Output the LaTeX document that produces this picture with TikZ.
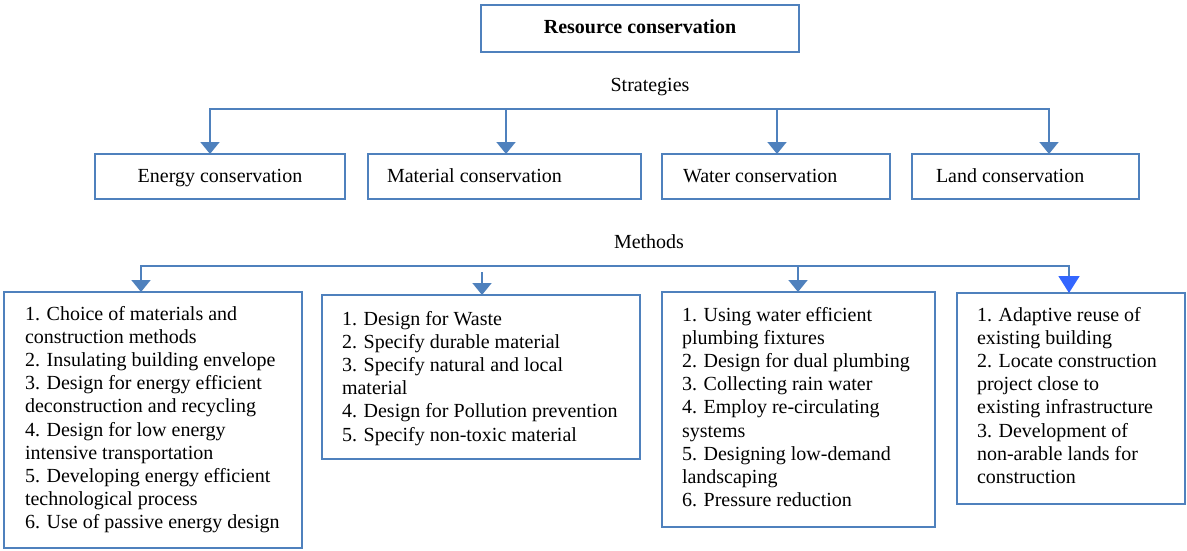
\documentclass[tikz,border=0pt]{standalone}
\usepackage{fontspec}
\setmainfont{Liberation Serif}
\usetikzlibrary{arrows.meta}
\definecolor{frame}{RGB}{79,129,189}
\definecolor{tipblue}{RGB}{51,102,255}
\begin{document}
\begin{tikzpicture}[x=1pt,y=-1pt,
  every node/.style={font=\fontsize{20}{23.2}\selectfont, inner sep=0pt, outer sep=0pt},
  box/.style={draw=frame, line width=2pt, anchor=north west},
  link/.style={draw=frame, line width=1.8pt, line join=miter},
  headtip/.tip={Triangle[width=19pt,length=12pt,color=frame]},
  bigtip/.tip={Triangle[width=21pt,length=17pt,color=tipblue]},
  label/.style={anchor=base},
  listtext/.style={anchor=north west, align=left}]

\useasboundingbox (0,0) rectangle (1187,550);

% top box
\node[box, minimum width=318pt, minimum height=47pt] (top) at (481,5) {};
\node[label] (toptext) at (640,33) {\textbf{Resource conservation}};

% strategies
\node[label] (strat) at (650,91) {Strategies};
\node[box, minimum width=250pt, minimum height=45pt] (s1) at (95,154) {};
\node[box, minimum width=273pt, minimum height=45pt] (s2) at (368,154) {};
\node[box, minimum width=228pt, minimum height=45pt] (s3) at (662,154) {};
\node[box, minimum width=227pt, minimum height=45pt] (s4) at (912,154) {};
\node[label] (s1t) at (220,182) {Energy conservation};
\node[label, anchor=base west] (s2t) at (387,182) {Material conservation};
\node[label, anchor=base west] (s3t) at (683,182) {Water conservation};
\node[label, anchor=base west] (s4t) at (936,182) {Land conservation};

\coordinate (a1) at (210,109);
\coordinate (a2) at (506,109);
\coordinate (a3) at (777,109);
\coordinate (a4) at (1049,109);
\draw[link, headtip-headtip] (a1 |- s1.north) -- (a1) -- (a4) -- (a4 |- s4.north);
\draw[link, -headtip] (a2) -- (a2 |- s2.north);
\draw[link, -headtip] (a3) -- (a3 |- s3.north);

% methods
\node[label] (meth) at (649,248) {Methods};
\node[box, minimum width=298pt, minimum height=256pt] (m1) at (4,292) {};
\node[box, minimum width=318pt, minimum height=164pt] (m2) at (322,295) {};
\node[box, minimum width=273pt, minimum height=235pt] (m3) at (662,292) {};
\node[box, minimum width=228pt, minimum height=211pt] (m4) at (957,293) {};

\coordinate (b1) at (141,266);
\coordinate (b2) at (482,272);
\coordinate (b3) at (798,266);
\coordinate (b4) at (1069,266);
\draw[link, headtip-bigtip] (b1 |- m1.north) -- (b1) -- (b4) -- (b4 |- m4.north);
\draw[link, -headtip] (b2) -- (b2 |- m2.north);
\draw[link, -headtip] (b3) -- (b3 |- m3.north);

\node[listtext] (m1t) at (25,306) {1. Choice of materials and\\construction methods\\2. Insulating building envelope\\3. Design for energy efficient\\deconstruction and recycling\\4. Design for low energy\\intensive transportation\\5. Developing energy efficient\\technological process\\6. Use of passive energy design};
\node[listtext] (m2t) at (342,311) {1. Design for Waste\\2. Specify durable material\\3. Specify natural and local\\material\\4. Design for Pollution prevention\\5. Specify non-toxic material};
\node[listtext] (m3t) at (682,307) {1. Using water efficient\\plumbing fixtures\\2. Design for dual plumbing\\3. Collecting rain water\\4. Employ re-circulating\\systems\\5. Designing low-demand\\landscaping\\6. Pressure reduction};
\node[listtext] (m4t) at (977,307) {1. Adaptive reuse of\\existing building\\2. Locate construction\\project close to\\existing infrastructure\\3. Development of\\non-arable lands for\\construction};
\end{tikzpicture}
\end{document}
